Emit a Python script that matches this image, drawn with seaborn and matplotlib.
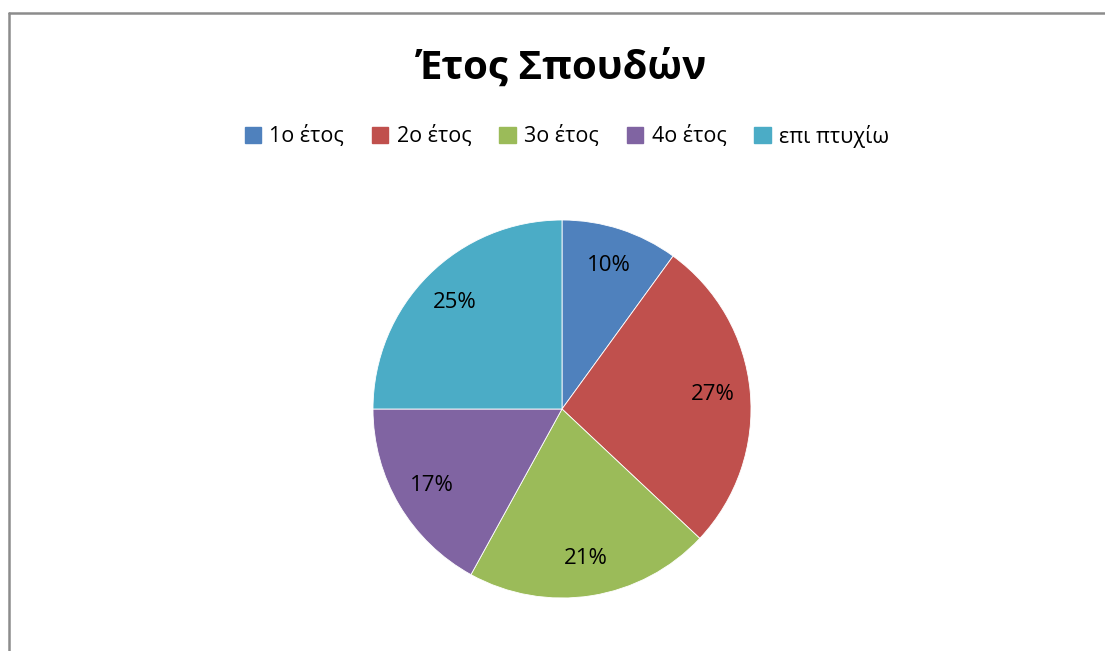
import matplotlib
matplotlib.use("Agg")
import matplotlib.pyplot as plt
import seaborn as sns
from matplotlib.lines import Line2D

categories = ["1ο έτος", "2ο έτος", "3ο έτος", "4ο έτος", "επι πτυχίω"]
values = [10, 27, 21, 17, 25]
colors = ["#4F81BD", "#C0504D", "#9BBB59", "#8064A2", "#4BACC6"]
title = "Έτος Σπουδών"

sns.set_theme(style="white")
plt.rcParams['font.family'] = ['Open Sans', 'DejaVu Sans']
plt.rcParams['text.color'] = 'black'

W, H = 1105, 651
fig = plt.figure(figsize=(W / 100, H / 100), dpi=100)
fig.patch.set_facecolor("white")

# border lines (left and top)
fig.add_artist(Line2D([9 / W, 9 / W], [0, 1 - 12.5 / H], transform=fig.transFigure,
                      color="#8c8c8c", lw=1.8))
fig.add_artist(Line2D([9 / W, 1], [1 - 12.5 / H, 1 - 12.5 / H], transform=fig.transFigure,
                      color="#8c8c8c", lw=1.8))

cx, cy, r = 562, 409, 189
ax = fig.add_axes([(cx - r) / W, (H - cy - r) / H, 2 * r / W, 2 * r / H])
palette = sns.color_palette(colors)
wedges, texts, autotexts = ax.pie(
    values, colors=palette, startangle=90, counterclock=False,
    autopct=lambda p: f"{p:.0f}%", pctdistance=0.80,
    wedgeprops=dict(edgecolor="white", linewidth=0.6),
    textprops=dict(fontsize=16, color="black"), radius=1.0)
ax.set_xlim(-1, 1)
ax.set_ylim(-1, 1)
ax.set_aspect("equal")
ax.axis("off")

fig.text(cx / W, 1 - 68 / H, title, ha="center", va="center",
         fontsize=29, fontweight="bold", color="black")

handles = [plt.Rectangle((0, 0), 1, 1, color=c) for c in colors]
leg = fig.legend(handles, categories, loc="center", bbox_to_anchor=(567 / W, 1 - 136 / H),
                 ncol=5, frameon=False, fontsize=15.5, handlelength=0.75, handleheight=0.75,
                 handletextpad=0.4, columnspacing=1.3, labelcolor="black")

fig.savefig("out.png", dpi=100, facecolor="white")
